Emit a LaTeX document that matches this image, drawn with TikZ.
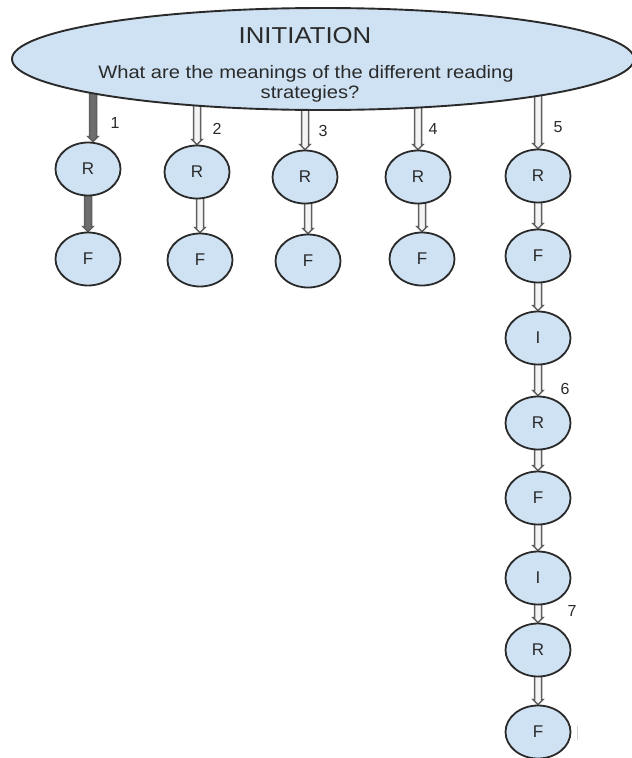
\documentclass[tikz,border=0pt]{standalone}
\usepackage{fontspec}
\setmainfont{Liberation Sans}
\usetikzlibrary{shapes.geometric,calc,backgrounds}
\definecolor{bubble}{HTML}{CFE2F3}
\definecolor{ink}{HTML}{2A2A2A}
\definecolor{rim}{HTML}{5E5E5E}
\definecolor{hollow}{HTML}{F4F4F4}
\definecolor{solidshaft}{HTML}{6E6E6E}
% block arrow pointing down: #1 = start, #2 = tip, #3 = fill colour
\newcommand\blockarrow[3]{%
  \filldraw[arrowline, fill=#3]
    ($(#1)+(-3.5,0)$) -- ($(#2)+(-3.5,-5)$) -- ($(#2)+(-5,-5)$) -- (#2)
    -- ($(#2)+(5,-5)$) -- ($(#2)+(3.5,-5)$) -- ($(#1)+(3.5,0)$) -- cycle;}
\begin{document}
\begin{tikzpicture}[x=1pt, y=-1pt,
  bubblenode/.style={ellipse, draw=ink, line width=1.8pt, fill=bubble,
    minimum width=65pt, minimum height=53pt, inner sep=0pt,
    font=\fontsize{17}{17}\selectfont, text=ink},
  numlabel/.style={inner sep=0pt, font=\fontsize{16}{16}\selectfont, text=ink},
  arrowline/.style={draw=rim, line width=1.5pt, line join=miter},
  headtext/.style={inner sep=0pt, anchor=base, text=ink, xscale=1.12}]
\useasboundingbox (0,0) rectangle (632,758);

% top ellipse with its texts
\node[ellipse, draw=ink, line width=1.9pt, fill=bubble, minimum width=622pt,
      minimum height=102pt, inner sep=0pt] (init) at (323,59) {};
\node[headtext, font=\fontsize{23}{23}\selectfont] (title) at (305,43) {INITIATION};
\node[headtext, font=\fontsize{18}{18}\selectfont] (q1) at (306,78)
  {What are the meanings of the different reading};
\node[headtext, font=\fontsize{18}{18}\selectfont] (q2) at (310,98) {strategies?};

% first four short columns
\node[bubblenode] (r1) at (88,169) {R};
\node[bubblenode] (f1) at (88,259) {F};
\node[bubblenode] (r2) at (197,172) {R};
\node[bubblenode] (f2) at (200,260) {F};
\node[bubblenode] (r3) at (305,177) {R};
\node[bubblenode] (f3) at (308,261) {F};
\node[bubblenode] (r4) at (418,177) {R};
\node[bubblenode] (f4) at (422,259) {F};

% long fifth column
\node[bubblenode] (r5) at (538,176) {R};
\node[bubblenode] (f5) at (538,256) {F};
\node[bubblenode] (i5) at (538,338) {I};
\node[bubblenode] (r6) at (538,423) {R};
\node[bubblenode] (f6) at (538,498) {F};
\node[bubblenode] (i6) at (538,578) {I};
\node[bubblenode] (r7) at (538,650) {R};
\node[bubblenode] (f7) at (538,732) {F};

% branch numbers
\node[numlabel] (n1) at (115,123) {1};
\node[numlabel] (n2) at (217,129) {2};
\node[numlabel] (n3) at (323,131) {3};
\node[numlabel] (n4) at (433,129) {4};
\node[numlabel] (n5) at (558,127) {5};
\node[numlabel] (n6) at (565,389) {6};
\node[numlabel] (n7) at (572,611) {7};

% arrow tips and their hidden starting points
\coordinate (t1) at ($(r1.north)+(5,0)$);
\coordinate (t2) at (r2.north);
\coordinate (t3) at (r3.north);
\coordinate (t4) at (r4.north);
\coordinate (t5) at (r5.north);
\foreach \k in {1,...,5}{\coordinate (s\k) at (t\k |- init.center);}
\coordinate (u1) at (f1.north |- r1.center);
\coordinate (u2) at (f2.north |- r2.center);
\coordinate (u3) at (f3.north |- r3.center);
\coordinate (u4) at (f4.north |- r4.center);
\coordinate (u5) at (f5.north |- r5.center);
\coordinate (v5) at (i5.north |- f5.center);
\coordinate (u6) at (r6.north |- i5.center);
\coordinate (v6) at (f6.north |- r6.center);
\coordinate (w6) at (i6.north |- f6.center);
\coordinate (u7) at (r7.north |- i6.center);
\coordinate (v7) at (f7.north |- r7.center);

\begin{scope}[on background layer]
  \blockarrow{s1}{t1}{solidshaft}
  \blockarrow{s2}{t2}{hollow}
  \blockarrow{s3}{t3}{hollow}
  \blockarrow{s4}{t4}{hollow}
  \blockarrow{s5}{t5}{hollow}
  \blockarrow{u1}{f1.north}{solidshaft}
  \blockarrow{u2}{f2.north}{hollow}
  \blockarrow{u3}{f3.north}{hollow}
  \blockarrow{u4}{f4.north}{hollow}
  \blockarrow{u5}{f5.north}{hollow}
  \blockarrow{v5}{i5.north}{hollow}
  \blockarrow{u6}{r6.north}{hollow}
  \blockarrow{v6}{f6.north}{hollow}
  \blockarrow{w6}{i6.north}{hollow}
  \blockarrow{u7}{r7.north}{hollow}
  \blockarrow{v7}{f7.north}{hollow}
\end{scope}

% faint stroke beside the last bubble
\draw[gray!35, line width=1pt] ($(f7.east)+(6,-6)$) -- ($(f7.east)+(6,8)$);
\end{tikzpicture}
\end{document}
